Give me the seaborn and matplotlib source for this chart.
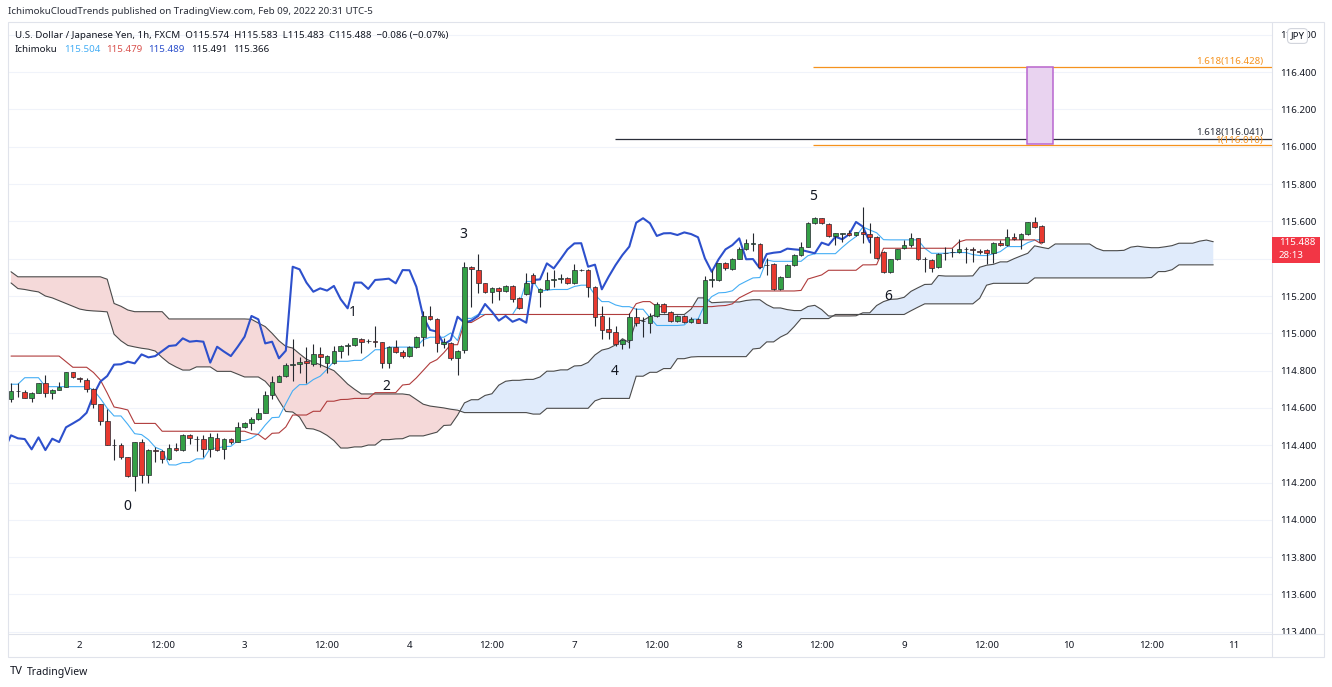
import numpy as np
import pandas as pd
import matplotlib
matplotlib.use("Agg")
import matplotlib.pyplot as plt
import seaborn as sns
from matplotlib.patches import Rectangle
from matplotlib.lines import Line2D

W, H = 1332, 687

# USD/JPY 1h candles (bar 0 = first visible candle)
OPEN = [114.646, 114.690, 114.687, 114.651, 114.682, 114.732, 114.678, 114.696, 114.710, 114.791,
        114.762, 114.750, 114.700, 114.621, 114.530, 114.401, 114.401, 114.335, 114.235, 114.415,
        114.240, 114.373, 114.367, 114.324, 114.385, 114.374, 114.453, 114.434, 114.432, 114.378,
        114.440, 114.378, 114.435, 114.417, 114.496, 114.517, 114.539, 114.574, 114.669, 114.741,
        114.771, 114.832, 114.835, 114.853, 114.835, 114.887, 114.839, 114.839, 114.905, 114.934,
        114.936, 114.969, 114.957, 114.957, 114.955, 114.843, 114.925, 114.902, 114.878, 114.928,
        114.982, 115.093, 115.075, 114.943, 114.946, 114.866, 114.911, 115.357, 115.339, 115.268,
        115.223, 115.241, 115.227, 115.254, 115.188, 115.211, 115.313, 115.222, 115.236, 115.288,
        115.292, 115.297, 115.268, 115.339, 115.339, 115.250, 115.093, 115.021, 115.009, 114.943,
        114.964, 115.086, 115.066, 115.054, 115.093, 115.157, 115.116, 115.068, 115.093, 115.062,
        115.077, 115.057, 115.287, 115.286, 115.375, 115.343, 115.398, 115.450, 115.481, 115.477,
        115.366, 115.372, 115.236, 115.304, 115.366, 115.420, 115.465, 115.590, 115.617, 115.584,
        115.522, 115.535, 115.540, 115.527, 115.541, 115.532, 115.518, 115.438, 115.330, 115.397,
        115.456, 115.473, 115.509, 115.397, 115.393, 115.354, 115.430, 115.435, 115.436, 115.452,
        115.448, 115.439, 115.447, 115.432, 115.486, 115.473, 115.518, 115.504, 115.531, 115.597,
        115.574]
HIGH = [114.732, 114.732, 114.696, 114.687, 114.735, 114.776, 114.700, 114.741, 114.794, 114.794,
        114.768, 114.759, 114.705, 114.621, 114.592, 114.433, 114.414, 114.339, 114.419, 114.432,
        114.378, 114.392, 114.374, 114.407, 114.410, 114.458, 114.458, 114.449, 114.453, 114.464,
        114.464, 114.440, 114.440, 114.526, 114.523, 114.550, 114.598, 114.692, 114.771, 114.776,
        114.839, 114.968, 114.875, 114.925, 114.943, 114.928, 114.884, 114.932, 114.937, 114.946,
        114.977, 114.973, 114.968, 115.039, 114.955, 114.932, 114.964, 114.911, 114.932, 114.986,
        115.120, 115.146, 115.080, 114.973, 114.955, 114.911, 115.384, 115.361, 115.425, 115.272,
        115.250, 115.250, 115.259, 115.257, 115.193, 115.322, 115.322, 115.241, 115.331, 115.339,
        115.318, 115.300, 115.372, 115.343, 115.343, 115.254, 115.146, 115.086, 115.039, 114.968,
        115.111, 115.134, 115.089, 115.107, 115.170, 115.161, 115.121, 115.098, 115.096, 115.086,
        115.080, 115.307, 115.339, 115.379, 115.384, 115.402, 115.465, 115.504, 115.540, 115.482,
        115.402, 115.375, 115.307, 115.372, 115.425, 115.488, 115.599, 115.622, 115.620, 115.590,
        115.540, 115.540, 115.554, 115.545, 115.679, 115.590, 115.522, 115.443, 115.400, 115.454,
        115.500, 115.536, 115.513, 115.411, 115.397, 115.429, 115.465, 115.456, 115.504, 115.465,
        115.465, 115.450, 115.450, 115.491, 115.500, 115.557, 115.540, 115.536, 115.599, 115.625,
        115.583]
LOW = [114.634, 114.660, 114.651, 114.634, 114.678, 114.660, 114.646, 114.696, 114.710, 114.759,
       114.741, 114.687, 114.598, 114.508, 114.401, 114.321, 114.324, 114.231, 114.156, 114.196,
       114.196, 114.312, 114.303, 114.321, 114.371, 114.369, 114.407, 114.371, 114.339, 114.339,
       114.371, 114.324, 114.407, 114.415, 114.490, 114.482, 114.535, 114.571, 114.646, 114.741,
       114.768, 114.746, 114.785, 114.732, 114.825, 114.821, 114.785, 114.835, 114.866, 114.884,
       114.932, 114.893, 114.950, 114.928, 114.812, 114.812, 114.896, 114.866, 114.875, 114.919,
       114.932, 115.071, 114.902, 114.919, 114.857, 114.776, 114.893, 115.143, 115.214, 115.214,
       115.161, 115.179, 115.223, 115.170, 115.130, 115.205, 115.268, 115.143, 115.232, 115.250,
       115.268, 115.264, 115.264, 115.336, 115.197, 115.039, 114.968, 114.968, 114.932, 114.914,
       114.919, 115.039, 114.982, 115.003, 115.089, 115.107, 115.062, 115.062, 115.057, 115.057,
       115.054, 115.057, 115.246, 115.282, 115.339, 115.339, 115.397, 115.447, 115.443, 115.348,
       115.313, 115.232, 115.232, 115.300, 115.361, 115.416, 115.461, 115.586, 115.586, 115.518,
       115.473, 115.491, 115.522, 115.522, 115.482, 115.429, 115.398, 115.325, 115.322, 115.393,
       115.450, 115.465, 115.393, 115.330, 115.330, 115.348, 115.393, 115.411, 115.429, 115.379,
       115.384, 115.425, 115.372, 115.379, 115.468, 115.468, 115.500, 115.450, 115.527, 115.563,
       115.483]
CLOSE = [114.692, 114.692, 114.651, 114.682, 114.732, 114.682, 114.696, 114.710, 114.791, 114.764,
         114.753, 114.700, 114.621, 114.530, 114.401, 114.400, 114.335, 114.235, 114.415, 114.240,
         114.374, 114.369, 114.324, 114.385, 114.374, 114.453, 114.437, 114.433, 114.378, 114.442,
         114.374, 114.435, 114.417, 114.496, 114.517, 114.539, 114.574, 114.669, 114.741, 114.771,
         114.832, 114.834, 114.848, 114.839, 114.887, 114.871, 114.878, 114.905, 114.932, 114.936,
         114.973, 114.955, 114.959, 114.955, 114.843, 114.928, 114.902, 114.878, 114.928, 114.982,
         115.093, 115.075, 114.946, 114.955, 114.866, 114.907, 115.357, 115.343, 115.272, 115.223,
         115.241, 115.229, 115.254, 115.182, 115.134, 115.272, 115.272, 115.238, 115.286, 115.289,
         115.293, 115.268, 115.339, 115.338, 115.250, 115.089, 115.018, 115.009, 114.941, 114.964,
         115.089, 115.057, 115.068, 115.093, 115.157, 115.116, 115.068, 115.093, 115.062, 115.077,
         115.057, 115.286, 115.289, 115.375, 115.348, 115.398, 115.450, 115.482, 115.483, 115.357,
         115.368, 115.236, 115.304, 115.366, 115.420, 115.465, 115.593, 115.617, 115.590, 115.522,
         115.536, 115.537, 115.527, 115.541, 115.532, 115.515, 115.402, 115.330, 115.397, 115.450,
         115.473, 115.509, 115.397, 115.398, 115.348, 115.425, 115.432, 115.436, 115.454, 115.450,
         115.447, 115.438, 115.429, 115.486, 115.473, 115.518, 115.504, 115.531, 115.597, 115.572,
         115.488]

# Ichimoku lines as drawn on the chart
TENKAN = [114.727, 114.727, 114.762, 114.762, 114.762, 114.714, 114.714, 114.714, 114.714, 114.714,
          114.714, 114.714, 114.696, 114.651, 114.598, 114.557, 114.557, 114.512, 114.462, 114.457,
          114.430, 114.389, 114.374, 114.295, 114.294, 114.307, 114.307, 114.327, 114.327, 114.384,
          114.384, 114.393, 114.394, 114.425, 114.425, 114.437, 114.461, 114.508, 114.548, 114.550,
          114.623, 114.692, 114.725, 114.725, 114.752, 114.770, 114.807, 114.850, 114.850, 114.850,
          114.855, 114.855, 114.881, 114.912, 114.912, 114.926, 114.926, 114.926, 114.926, 114.926,
          114.966, 114.979, 114.979, 114.979, 115.002, 114.961, 115.080, 115.080, 115.101, 115.101,
          115.101, 115.101, 115.101, 115.101, 115.159, 115.278, 115.278, 115.226, 115.231, 115.235,
          115.235, 115.235, 115.251, 115.258, 115.258, 115.206, 115.170, 115.170, 115.152, 115.143,
          115.143, 115.129, 115.129, 115.084, 115.042, 115.042, 115.042, 115.042, 115.045, 115.076,
          115.076, 115.155, 115.197, 115.217, 115.219, 115.228, 115.260, 115.279, 115.297, 115.299,
          115.393, 115.386, 115.386, 115.386, 115.386, 115.386, 115.416, 115.427, 115.427, 115.427,
          115.427, 115.461, 115.492, 115.519, 115.570, 115.554, 115.539, 115.502, 115.501, 115.501,
          115.501, 115.501, 115.501, 115.456, 115.429, 115.429, 115.429, 115.433, 115.433, 115.433,
          115.422, 115.417, 115.417, 115.426, 115.438, 115.465, 115.465, 115.465, 115.486, 115.499,
          115.504]
KIJUN = [114.878, 114.878, 114.878, 114.878, 114.878, 114.878, 114.878, 114.878, 114.848, 114.818,
         114.818, 114.818, 114.790, 114.750, 114.680, 114.605, 114.598, 114.589, 114.517, 114.517,
         114.517, 114.517, 114.475, 114.475, 114.475, 114.475, 114.475, 114.475, 114.475, 114.475,
         114.475, 114.475, 114.475, 114.475, 114.475, 114.462, 114.458, 114.431, 114.464, 114.466,
         114.498, 114.562, 114.562, 114.562, 114.582, 114.582, 114.636, 114.636, 114.645, 114.646,
         114.651, 114.651, 114.651, 114.682, 114.682, 114.682, 114.682, 114.723, 114.727, 114.761,
         114.801, 114.841, 114.859, 114.896, 114.939, 114.939, 115.058, 115.058, 115.079, 115.101,
         115.101, 115.101, 115.101, 115.101, 115.101, 115.101, 115.101, 115.101, 115.101, 115.101,
         115.101, 115.101, 115.101, 115.101, 115.101, 115.101, 115.101, 115.101, 115.101, 115.101,
         115.101, 115.159, 115.170, 115.170, 115.143, 115.143, 115.143, 115.143, 115.143, 115.143,
         115.143, 115.143, 115.143, 115.147, 115.149, 115.158, 115.190, 115.209, 115.227, 115.227,
         115.227, 115.227, 115.227, 115.227, 115.227, 115.230, 115.291, 115.302, 115.313, 115.338,
         115.338, 115.338, 115.338, 115.338, 115.367, 115.367, 115.368, 115.456, 115.456, 115.456,
         115.456, 115.456, 115.456, 115.456, 115.456, 115.456, 115.456, 115.456, 115.490, 115.501,
         115.501, 115.501, 115.501, 115.501, 115.501, 115.501, 115.501, 115.501, 115.501, 115.501,
         115.479]
# leading spans run 25 bars past the last candle
SPAN_A = [115.270, 115.240, 115.235, 115.228, 115.222, 115.200, 115.190, 115.175, 115.160, 115.145,
          115.130, 115.123, 115.120, 115.118, 115.115, 114.995, 114.960, 114.935, 114.927, 114.920,
          114.915, 114.905, 114.870, 114.840, 114.820, 114.803, 114.803, 114.820, 114.820, 114.820,
          114.796, 114.796, 114.796, 114.781, 114.766, 114.766, 114.766, 114.743, 114.701, 114.639,
          114.581, 114.578, 114.551, 114.490, 114.487, 114.474, 114.453, 114.425, 114.385, 114.385,
          114.391, 114.391, 114.401, 114.401, 114.430, 114.430, 114.434, 114.435, 114.450, 114.450,
          114.450, 114.460, 114.470, 114.506, 114.508, 114.561, 114.627, 114.644, 114.644, 114.667,
          114.676, 114.722, 114.743, 114.748, 114.748, 114.753, 114.753, 114.766, 114.797, 114.797,
          114.804, 114.804, 114.825, 114.827, 114.844, 114.884, 114.910, 114.919, 114.938, 114.971,
          114.950, 115.069, 115.069, 115.090, 115.101, 115.101, 115.101, 115.101, 115.101, 115.130,
          115.190, 115.190, 115.164, 115.166, 115.168, 115.168, 115.168, 115.176, 115.180, 115.180,
          115.154, 115.136, 115.136, 115.127, 115.122, 115.122, 115.144, 115.150, 115.127, 115.093,
          115.093, 115.093, 115.093, 115.094, 115.110, 115.110, 115.149, 115.170, 115.182, 115.184,
          115.193, 115.225, 115.244, 115.262, 115.263, 115.310, 115.307, 115.307, 115.307, 115.307,
          115.308, 115.354, 115.365, 115.370, 115.383, 115.383, 115.400, 115.415, 115.429, 115.469,
          115.461, 115.454, 115.479, 115.479, 115.479, 115.479, 115.479, 115.479, 115.456, 115.443,
          115.443, 115.443, 115.445, 115.462, 115.467, 115.462, 115.459, 115.459, 115.464, 115.470,
          115.483, 115.483, 115.483, 115.494, 115.500, 115.491]
SPAN_B = [115.330, 115.303, 115.303, 115.303, 115.303, 115.303, 115.303, 115.303, 115.303, 115.303,
          115.303, 115.303, 115.303, 115.303, 115.290, 115.160, 115.145, 115.125, 115.116, 115.116,
          115.116, 115.116, 115.116, 115.077, 115.077, 115.077, 115.077, 115.077, 115.077, 115.077,
          115.077, 115.077, 115.077, 115.077, 115.077, 115.075, 115.055, 115.036, 115.000, 114.960,
          114.930, 114.921, 114.890, 114.861, 114.846, 114.832, 114.816, 114.800, 114.765, 114.728,
          114.700, 114.675, 114.675, 114.675, 114.675, 114.675, 114.675, 114.675, 114.670, 114.645,
          114.620, 114.610, 114.605, 114.600, 114.593, 114.588, 114.575, 114.575, 114.575, 114.575,
          114.575, 114.575, 114.575, 114.575, 114.575, 114.575, 114.567, 114.567, 114.598, 114.598,
          114.598, 114.598, 114.598, 114.598, 114.598, 114.638, 114.651, 114.651, 114.651, 114.651,
          114.651, 114.770, 114.770, 114.791, 114.791, 114.811, 114.811, 114.864, 114.864, 114.873,
          114.875, 114.875, 114.875, 114.875, 114.875, 114.875, 114.875, 114.875, 114.916, 114.920,
          114.954, 114.954, 114.980, 114.998, 115.036, 115.079, 115.079, 115.079, 115.079, 115.079,
          115.101, 115.101, 115.101, 115.101, 115.101, 115.101, 115.101, 115.101, 115.101, 115.101,
          115.101, 115.121, 115.140, 115.158, 115.158, 115.158, 115.158, 115.158, 115.158, 115.158,
          115.158, 115.188, 115.258, 115.268, 115.268, 115.268, 115.268, 115.268, 115.268, 115.297,
          115.297, 115.297, 115.297, 115.297, 115.297, 115.297, 115.297, 115.297, 115.297, 115.297,
          115.297, 115.297, 115.297, 115.297, 115.297, 115.297, 115.299, 115.331, 115.331, 115.341,
          115.367, 115.367, 115.367, 115.367, 115.367, 115.367]
LAG = 25

TICK_BARS = [10, 22, 34, 46, 58, 70, 82, 94, 106, 118, 130, 142, 154, 166, 178]
TICK_LABELS = ["2", "12:00", "3", "12:00", "4", "12:00", "7", "12:00", "8", "12:00",
               "9", "12:00", "10", "12:00", "11"]
PRICE_TICKS = [113.4, 113.6, 113.8, 114.0, 114.2, 114.4, 114.6, 114.8, 115.0, 115.2,
               115.4, 115.6, 115.8, 116.0, 116.2, 116.4, 116.6]

WAVE_LABELS = ["0", "1", "2", "3", "4", "5", "6"]
WAVE_BARS = [16.9, 49.8, 54.7, 65.8, 87.9, 116.7, 127.7]
WAVE_PRICES = [114.074, 115.109, 114.717, 115.532, 114.793, 115.736, 115.195]

FIB_LEVELS = [116.428, 116.041, 116.010]
FIB_START = [116.7, 87.9, 116.7]
FIB_TEXT = ["1.618(116.428)", "1.618(116.041)", "1(116.010)"]
BOX_BARS = (147.9, 151.7)
BOX_PRICES = (116.015, 116.428)

LEGEND_VALUES = ["115.504", "115.479", "115.489", "115.491", "115.366"]

GREEN = "#34a046"
RED = "#e8392f"
WICK_C = "#25282f"
TENKAN_C = "#45aef5"
KIJUN_C = "#b03c3c"
CHIKOU_C = "#2d50cc"
CLOUD_C = "#4b4b4b"
PINK = "#f5d9d9"
SKY = "#e0ebfb"
ORANGE = "#f5921e"
TXT = "#131722"
FRAME = "#e0e3eb"

sns.set_theme(style="white")
plt.rcParams['font.family'] = ['Noto Sans', 'DejaVu Sans']


def fx(x):
    return x / W


def fy(y):
    return 1 - y / H


fig = plt.figure(figsize=(W / 100, H / 100), dpi=100)
ax = fig.add_axes([fx(8), fy(634), fx(1272) - fx(8), fy(22) - fy(634)])

candles = pd.DataFrame({"bar": np.arange(len(CLOSE)), "open": OPEN, "high": HIGH,
                        "low": LOW, "close": CLOSE})
cloud = pd.DataFrame({"bar": np.arange(len(SPAN_A)), "a": SPAN_A, "b": SPAN_B})
lines = pd.DataFrame({"bar": candles["bar"], "tenkan": TENKAN, "kijun": KIJUN})
lag = pd.DataFrame({"bar": candles["bar"] - LAG, "close": candles["close"]})
lag = lag[lag["bar"] >= -1]

# cloud
ax.fill_between(cloud["bar"], cloud["a"], cloud["b"], where=cloud["a"] >= cloud["b"],
                interpolate=True, color=SKY, lw=0, zorder=1)
ax.fill_between(cloud["bar"], cloud["a"], cloud["b"], where=cloud["a"] < cloud["b"],
                interpolate=True, color=PINK, lw=0, zorder=1)
sns.lineplot(data=cloud, x="bar", y="a", ax=ax, color=CLOUD_C, lw=0.8, zorder=2)
sns.lineplot(data=cloud, x="bar", y="b", ax=ax, color=CLOUD_C, lw=0.8, zorder=2)

# conversion / base / lagging lines
sns.lineplot(data=lines, x="bar", y="tenkan", ax=ax, color=TENKAN_C, lw=0.8, zorder=3)
sns.lineplot(data=lines, x="bar", y="kijun", ax=ax, color=KIJUN_C, lw=0.8, zorder=3)
sns.lineplot(data=lag, x="bar", y="close", ax=ax, color=CHIKOU_C, lw=1.5, zorder=3)

# candles
up = candles["close"] >= candles["open"]
body_lo = np.minimum(candles["open"], candles["close"])
body_h = np.maximum((candles["close"] - candles["open"]).abs(), 0.0025)
ax.vlines(candles["bar"], candles["low"], candles["high"], color=WICK_C, lw=0.8, zorder=4)
ax.bar(candles["bar"], body_h, bottom=body_lo, width=0.68,
       color=np.where(up, GREEN, RED), edgecolor=WICK_C, linewidth=0.5, zorder=5)

# fib drawings
for lvl, start, c in zip(FIB_LEVELS, FIB_START, [ORANGE, "#2a2e39", ORANGE]):
    ax.hlines(lvl, start, 200, color=c, lw=0.9, zorder=3)
for lvl, txt, c, dy in zip(FIB_LEVELS, FIB_TEXT, [ORANGE, "#2a2e39", ORANGE], [1, 2, 0]):
    ax.annotate(txt, xy=(1, lvl), xycoords=("axes fraction", "data"), xytext=(-9, dy),
                textcoords="offset pixels", ha="right", va="bottom", fontsize=7, color=c,
                zorder=6)
ax.add_patch(Rectangle((BOX_BARS[0], BOX_PRICES[0]), BOX_BARS[1] - BOX_BARS[0],
                       BOX_PRICES[1] - BOX_PRICES[0], fc="#e9d3f0", ec="#b866d0",
                       lw=1.1, zorder=6))

for lab, b, p in zip(WAVE_LABELS, WAVE_BARS, WAVE_PRICES):
    ax.text(b, p, lab, ha="center", va="center", fontsize=10, color=TXT, zorder=7)

ax.set_xlim(-0.44, 183.55)
ax.set_ylim(113.388, 116.669)
ax.set_xlabel("")
ax.set_ylabel("")
ax.set_yticks(PRICE_TICKS)
ax.set_yticklabels([f"{t:.3f}" for t in PRICE_TICKS])
ax.yaxis.tick_right()
ax.set_xticks(TICK_BARS)
ax.set_xticklabels(TICK_LABELS)
ax.tick_params(axis="y", length=0, pad=6, labelsize=7, labelcolor=TXT)
ax.tick_params(axis="x", length=0, pad=5, labelsize=7, labelcolor=TXT)
ax.grid(axis="y", color="#f0f3fa", lw=0.8)
ax.set_axisbelow(True)
for s in ax.spines.values():
    s.set_visible(False)

# frame of the chart panes
fig.add_artist(Rectangle((fx(1272.5), fy(656.5)), fx(1323.5) - fx(1272.5), fy(634.5) - fy(656.5),
                         transform=fig.transFigure, fc="white", ec="none", zorder=1))
fig.add_artist(Rectangle((fx(8), fy(657)), fx(1324) - fx(8), fy(22) - fy(657),
                         transform=fig.transFigure, fill=False, ec=FRAME, lw=0.8, zorder=2))
fig.add_artist(Line2D([fx(1272), fx(1272)], [fy(22), fy(657)], transform=fig.transFigure,
                      color=FRAME, lw=0.8, zorder=2))
fig.add_artist(Line2D([fx(8), fx(1324)], [fy(634), fy(634)], transform=fig.transFigure,
                      color=FRAME, lw=0.8, zorder=2))

# last price tag
ydisp = ax.transData.transform((0, CLOSE[-1]))[1]
ytop = H - ydisp
fig.add_artist(Rectangle((fx(1272), fy(ytop + 20.5)), fx(1320) - fx(1272), fy(ytop - 5.5) - fy(ytop + 20.5),
                         transform=fig.transFigure, fc="#f23645", ec="none", zorder=3))
fig.text(fx(1279), fy(ytop), f"{CLOSE[-1]:.3f}", color="white", fontsize=7, va="center", zorder=4)
fig.text(fx(1279), fy(ytop + 13.5), "28:13", color="white", fontsize=7, va="center", zorder=4)

fig.text(fx(1297.5), fy(36), "JPY", color=TXT, fontsize=7, ha="center", va="center", zorder=4,
         bbox=dict(boxstyle="round,pad=0.3,rounding_size=0.4", fc="white", ec="#d1d4dc", lw=0.8))

# header
fig.text(fx(8), fy(11), "IchimokuCloudTrends published on TradingView.com, Feb 09, 2022 20:31 UTC-5",
         color="#2a2e39", fontsize=7, va="center")
fig.text(fx(15), fy(35), "U.S. Dollar / Japanese Yen, 1h, FXCM  O115.574  H115.583  L115.483  "
         "C115.488  \u22120.086 (\u22120.07%)", color=TXT, fontsize=7, va="center")
renderer = fig.canvas.get_renderer()
xpos = fx(15)
for word, col in zip(["Ichimoku"] + LEGEND_VALUES,
                     [TXT, TENKAN_C, "#d9534f", CHIKOU_C, TXT, TXT]):
    t = fig.text(xpos, fy(50), word, color=col, fontsize=7, va="center")
    bb = t.get_window_extent(renderer)
    xpos = (bb.x1 + 6) / W

fig.text(fx(10), fy(672), "TV", color="#131722", fontsize=8, fontweight="heavy", va="center")
fig.text(fx(27), fy(672), "TradingView", color="#131722", fontsize=7.5, va="center")

fig.savefig("out.png", dpi=100)
